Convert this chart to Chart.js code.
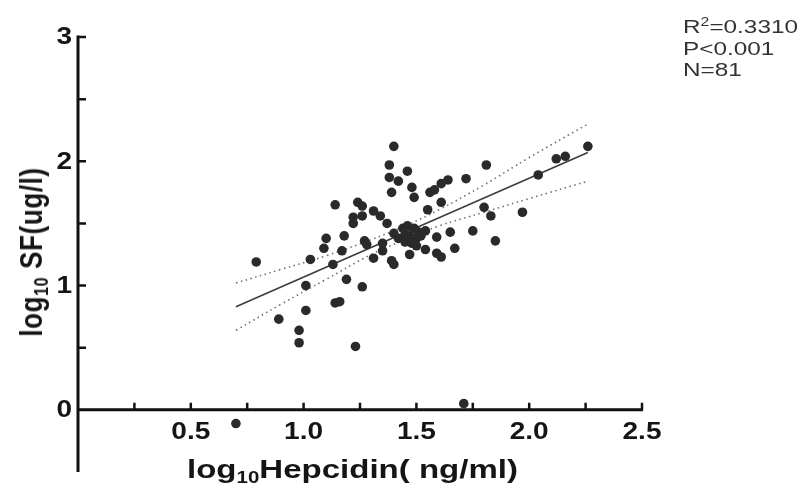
<!DOCTYPE html>
<html>
<head>
<meta charset="utf-8">
<script src="https://cdn.jsdelivr.net/npm/chart.js@4.4.1/dist/chart.umd.min.js"></script>
<style>
  html, body { margin: 0; padding: 0; background: #fff; }
  #wrap { position: relative; width: 812px; height: 490px; overflow: hidden; }
  #chart { position: absolute; left: 0; top: 0; }
  .ttl { position: absolute; font-family: "Liberation Sans", Arial, sans-serif; font-weight: bold; color: #151515; white-space: nowrap; line-height: 1; }
  .ttl sub { font-size: 62%; vertical-align: -0.3em; line-height: 0; }
  #xTitle { left: 187px; top: 456px; font-size: 26px; transform: scaleX(1.27); transform-origin: 0 0; }
  #yTitle { left: 31px; top: 252px; font-size: 26px; letter-spacing: 0.6px; transform: translate(-50%, -50%) rotate(-90deg) scaleY(1.2); }
  #stats { position: absolute; left: 683px; top: 16px; font-family: "Liberation Sans", Arial, sans-serif; font-size: 19px; line-height: 21.5px; color: #333; transform: scaleX(1.28); transform-origin: 0 0; white-space: nowrap; }
  #stats sup { font-size: 65%; vertical-align: 0.55em; line-height: 0; }
</style>
</head>
<body>
<div id="wrap">
  <canvas id="chart" width="812" height="490"></canvas>
  <div class="ttl" id="xTitle">log<sub>10</sub>Hepcidin( ng/ml)</div>
  <div class="ttl" id="yTitle">log<sub>10</sub> SF(ug/l)</div>
  <div id="stats">R<sup>2</sup>=0.3310<br>P&lt;0.001<br>N=81</div>
</div>
<script>
  // log10 hepcidin (x) vs log10 serum ferritin (y)
  const hepcidin = [1.40,1.38,1.38,1.42,1.46,1.39,1.48,1.49,1.14,1.24,
    1.26,1.22,1.26,1.22,1.31,1.34,1.37,1.10,1.18,1.09,
    1.17,1.27,1.28,1.35,1.35,1.40,1.47,1.31,1.39,1.40,
    1.03,0.79,1.13,1.19,1.26,1.01,1.14,1.16,1.01,0.89,
    0.98,0.98,1.23,0.70,1.71,1.56,1.58,1.61,1.64,1.72,
    1.81,1.55,1.61,1.80,1.83,1.97,2.04,2.12,2.16,2.26,
    1.54,1.59,1.65,1.75,1.85,1.54,1.59,1.61,1.67,1.44,
    1.46,1.49,1.51,1.45,1.47,1.50,1.52,1.45,1.48,1.50,1.42];
  const ferritin = [2.12,1.97,1.87,1.84,1.92,1.75,1.79,1.71,1.65,1.67,
    1.64,1.55,1.56,1.50,1.60,1.56,1.50,1.38,1.40,1.30,
    1.28,1.36,1.33,1.34,1.28,1.42,1.25,1.22,1.20,1.17,
    1.21,1.19,1.17,1.05,0.99,1.00,0.86,0.87,0.80,0.73,
    0.64,0.54,0.51,-0.11,0.05,1.75,1.77,1.82,1.85,1.86,
    1.97,1.61,1.67,1.63,1.56,1.59,1.89,2.02,2.04,2.12,
    1.44,1.39,1.43,1.44,1.36,1.29,1.26,1.23,1.30,1.46,
    1.48,1.46,1.43,1.41,1.40,1.38,1.40,1.35,1.34,1.32,1.38];

  // regression line and 95% band
  const fitX = [0.70, 2.26];
  const fitY = [0.83, 2.07];
  const bandX = [0.70, 0.90, 1.10, 1.30, 1.45, 1.60, 1.80, 2.00, 2.26];
  const bandUpper = [1.02, 1.13, 1.24, 1.37, 1.48, 1.61, 1.81, 2.03, 2.30];
  const bandLower = [0.64, 0.85, 1.05, 1.25, 1.37, 1.48, 1.59, 1.70, 1.84];

  // axes
  const xRange = [0, 2.5];
  const yRange = [-0.5, 3];
  const xTicks = [0.25, 0.5, 0.75, 1.0, 1.25, 1.5, 1.75, 2.0, 2.25, 2.5];
  const xTickLabels = ['0.5', '1.0', '1.5', '2.0', '2.5'];
  const yTicks = [0.5, 1, 1.5, 2, 2.5, 3];
  const yTickLabels = ['0', '1', '2', '3'];

  const pts = (xs, ys) => xs.map((v, i) => ({ x: v, y: ys[i] }));

  const TXT = '#151515';
  const LABEL_FONT = 'bold 23px "Liberation Sans", Arial, sans-serif';

  // axis lines with inward ticks, crossing at (0,0)
  const axesPlugin = {
    id: 'axes',
    beforeDatasetsDraw(chart) {
      const { ctx, scales: { x, y } } = chart;
      const x0 = x.getPixelForValue(0), y0 = y.getPixelForValue(0);
      ctx.save();
      ctx.strokeStyle = '#111';
      ctx.lineWidth = 3;
      ctx.beginPath();
      ctx.moveTo(x0, y.getPixelForValue(yRange[1]) - 1.5);
      ctx.lineTo(x0, y.getPixelForValue(yRange[0]));
      ctx.moveTo(x0 - 1.5, y0);
      ctx.lineTo(x.getPixelForValue(xRange[1]) + 1, y0);
      ctx.stroke();

      ctx.lineWidth = 2.5;
      ctx.beginPath();
      xTicks.forEach(v => { const px = x.getPixelForValue(v); ctx.moveTo(px, y0); ctx.lineTo(px, y0 - 7); });
      yTicks.forEach(v => { const py = y.getPixelForValue(v); ctx.moveTo(x0, py); ctx.lineTo(x0 + 8, py); });
      ctx.stroke();

      ctx.fillStyle = TXT;
      ctx.font = LABEL_FONT;
      ctx.textBaseline = 'middle';
      xTickLabels.forEach(t => {
        ctx.save();
        ctx.translate(x.getPixelForValue(parseFloat(t)), y0 + 23);
        ctx.scale(1.22, 1);
        ctx.textAlign = 'center';
        ctx.fillText(t, 0, 0);
        ctx.restore();
      });
      yTickLabels.forEach(t => {
        ctx.save();
        ctx.translate(x0 - 6, y.getPixelForValue(parseFloat(t)) + 1);
        ctx.scale(1.22, 1);
        ctx.textAlign = 'right';
        ctx.fillText(t, 0, 0);
        ctx.restore();
      });
      ctx.restore();
    }
  };

  new Chart(document.getElementById('chart'), {
    type: 'scatter',
    data: {
      datasets: [
        { label: 'Samples', data: pts(hepcidin, ferritin), order: 0,
          pointRadius: 4.8, pointBackgroundColor: '#2a2a2a', pointBorderWidth: 0 },
        { label: 'Fit', data: pts(fitX, fitY), order: 1, showLine: true,
          borderColor: '#3c3c3c', borderWidth: 1.6, pointRadius: 0 },
        { label: 'Upper 95%', data: pts(bandX, bandUpper), order: 2, showLine: true, tension: 0.4,
          borderColor: '#707070', borderWidth: 1.6, borderDash: [1.5, 3.5], pointRadius: 0 },
        { label: 'Lower 95%', data: pts(bandX, bandLower), order: 2, showLine: true, tension: 0.4,
          borderColor: '#707070', borderWidth: 1.6, borderDash: [1.5, 3.5], pointRadius: 0 }
      ]
    },
    options: {
      responsive: false,
      animation: false,
      layout: { padding: { left: 78, right: 170, top: 37, bottom: 18 } },
      plugins: { legend: { display: false }, tooltip: { enabled: false } },
      scales: {
        x: { type: 'linear', display: false, min: xRange[0], max: xRange[1] },
        y: { type: 'linear', display: false, min: yRange[0], max: yRange[1] }
      }
    },
    plugins: [axesPlugin]
  });
</script>
</body>
</html>
